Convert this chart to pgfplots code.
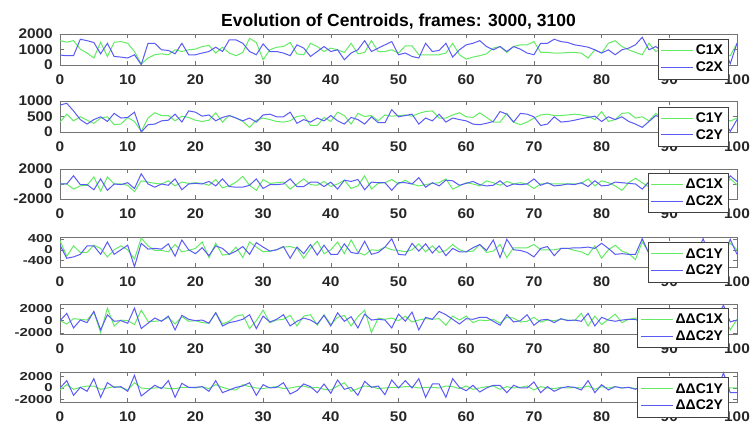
\documentclass[border=0pt]{standalone}
\usepackage{fontspec}
\setmainfont{Liberation Sans}
\newfontfamily\tickfont[FakeStretch=1.1]{Liberation Sans}
\newfontfamily\tickfontw[FakeStretch=1.3]{Liberation Sans}
\usepackage{pgfplots}
\usepackage{pgfplotstable}
\pgfplotsset{compat=1.18}
\definecolor{cg}{RGB}{100,235,100}
\definecolor{cb}{RGB}{90,90,245}
\definecolor{tx}{RGB}{38,38,38}

\pgfplotstableread{
x a b c d e f g h i j k l
0 1574 640 320 870 0 0 340 170 0 0 -340 0
1 1470 600 575 925 0 0 -240 -315 -540 1180 570 1260
2 1570 600 360 680 -680 1100 145 -265 320 -1180 -230 -1260
3 1020 1660 490 400 -255 -85 -100 -170 220 100 110 110
4 770 1570 380 255 -170 -85 -100 145 100 -320 340 -570
5 450 1450 280 400 940 -770 170 145 1380 1500 340 1600
6 1470 720 450 490 -940 680 50 -170 -1920 -1500 -230 -1600
7 550 1400 490 340 940 -850 -265 290 2020 960 0 910
8 1470 550 235 600 0 0 0 -170 -860 -100 230 110
9 1510 510 255 450 0 -85 145 0 100 0 110 230
10 1400 450 470 470 -170 170 0 170 0 -420 -340 -570
11 870 660 340 640 -1020 -600 -340 -630 -640 2020 910 2170
12 60 20 20 0 425 1360 435 240 1700 -1280 0 -1370
13 450 1400 450 235 255 0 145 25 -100 -420 -110 -460
14 660 1400 620 255 85 -425 -25 50 -100 420 0 460
15 720 980 530 360 0 0 -25 25 0 -100 110 -110
16 660 940 530 380 425 -170 -75 220 540 740 -110 1260
17 980 720 360 575 -255 680 195 -240 -540 -1500 -110 -1600
18 870 1400 510 320 255 -770 -75 365 640 860 110 800
19 980 660 470 680 85 0 -25 0 -100 220 110 110
20 1020 660 380 640 170 85 50 -145 0 0 0 110
21 1190 770 340 510 85 0 290 75 -320 100 230 230
22 1260 870 380 550 -170 340 -290 -220 -420 -420 -110 -570
23 770 1150 620 360 600 -255 240 145 1280 1280 570 1260
24 1150 870 320 470 -510 680 -195 50 -540 -860 110 -800
25 770 1620 530 530 -255 -340 -170 -170 -100 -320 -230 -340
26 600 1620 450 450 255 -425 100 -50 740 -100 -340 110
27 810 1400 340 360 1020 -425 -290 120 960 220 570 340
28 1720 870 150 450 -170 -170 290 -170 -1280 960 230 910
29 1450 660 380 320 -850 680 100 265 0 -1280 0 -1260
30 340 1360 450 550 600 -600 -75 100 1700 740 -110 570
31 980 870 400 575 85 -85 -50 -50 -320 -220 110 0
32 1150 870 340 490 170 -85 0 0 100 220 230 110
33 1190 770 320 490 255 0 100 120 220 960 -110 910
34 1450 600 360 640 -680 680 120 -315 860 -860 0 -1030
35 720 1300 500 280 0 -340 50 100 -860 -100 230 -460
36 660 1090 530 400 680 -340 -315 -145 740 420 340 690
37 1400 550 210 320 -85 255 50 195 960 100 0 230
38 1190 870 210 450 -170 255 315 -195 -740 -540 110 -800
39 870 1190 470 360 340 -340 -145 170 960 860 -230 690
40 1090 870 340 530 -340 255 0 -170 -640 -860 -340 -910
41 980 980 640 360 0 -680 290 -170 540 1280 340 1370
42 810 340 530 255 510 510 -145 220 860 -100 910 -230
43 1400 770 255 470 -600 340 365 -100 -860 640 -570 110
44 720 980 600 400 -255 600 -100 -145 640 -1180 -110 -1260
45 810 1570 500 255 1100 -770 -195 315 1700 1060 340 1140
46 1570 870 530 490 -680 255 0 -170 -1920 100 230 110
47 870 1090 360 300 85 170 -25 -100 420 220 -110 340
48 870 1300 550 300 170 170 100 100 220 100 0 -1140
49 980 1510 510 720 600 -850 0 410 420 -1180 110 1370
50 770 660 530 490 0 170 -25 -170 0 1060 110 0
51 1230 770 550 530 510 170 -75 -195 740 -100 230 1260
52 1230 550 510 575 0 0 0 240 -220 1380 230 0
53 660 450 600 255 -255 850 220 -50 100 -1500 0 1600
54 660 1400 660 450 -85 -425 -75 220 320 540 110 -1600
55 660 870 680 360 85 170 145 -120 220 220 110 690
56 660 940 450 575 170 -255 -100 145 320 1500 0 690
57 770 1400 450 320 680 510 -25 -220 -740 960 340 -1600
58 1400 510 550 450 -680 425 195 50 740 220 230 1600
59 660 980 620 400 -255 -170 0 -75 100 -540 -110 110
60 380 1300 490 360 170 85 -75 -75 740 320 340 -460
61 510 1400 470 255 0 340 -50 75 -320 220 -230 460
62 600 1570 620 235 -255 -85 195 195 100 540 0 -690
63 720 1190 470 280 425 -255 -100 -25 0 540 230 0
64 1090 980 320 340 170 -170 -50 365 220 -100 340 460
65 1190 1190 320 660 -170 425 195 -290 -420 -740 -230 460
66 810 870 600 575 340 -340 -290 390 540 960 230 -800
67 1190 1190 320 320 0 0 75 0 420 -220 0 460
68 1300 1020 235 600 170 -85 75 -25 -220 0 110 0
69 1300 770 320 575 0 0 75 -100 -100 960 340 0
70 1510 660 450 490 -600 680 195 -265 540 -740 -340 1030
71 810 1400 550 210 0 -170 0 50 -220 100 230 -800
72 810 1400 575 255 85 170 0 120 100 220 0 230
73 770 1660 530 490 0 -255 0 -220 0 -320 -110 -570
74 770 1510 530 320 0 -170 50 50 220 320 110 0
75 810 1450 550 340 0 0 50 50 100 0 0 230
76 810 1300 575 380 0 -85 -25 75 0 100 110 110
77 770 1230 550 430 85 170 -75 75 1180 -100 0 -340
78 450 1150 510 470 680 -340 -195 100 -860 1180 340 1260
79 980 980 400 510 -255 425 145 50 740 -860 -230 -800
80 770 770 660 340 425 -255 -315 240 -640 540 230 570
81 1400 980 340 490 170 -170 0 50 220 100 0 -340
82 1570 660 400 400 -255 255 170 -170 1060 -100 230 230
83 1190 980 600 490 -850 170 -50 -145 -320 100 0 0
84 980 1090 620 340 170 85 -145 -170 220 220 110 110
85 810 1300 450 255 770 0 -365 -170 420 220 -110 -230
86 660 1790 490 150 170 -680 290 410 300 -400 110 460
87 1400 980 360 340 -400 300 -100 -150 -500 600 -110 -690
88 870 1190 600 530 300 -500 150 200 700 -300 230 800
89 1090 870 450 450 -200 400 -50 -100 -300 400 0 -460
90 900 1200 500 400 500 -200 100 -50 400 -500 110 230
91 1300 800 400 550 -600 300 -150 150 -600 300 -230 570
92 800 1300 550 350 200 -400 200 -200 500 -200 230 -800
93 1100 900 450 500 0 200 -100 100 -200 500 0 460
94 700 1500 500 400 -300 0 50 -150 300 -600 110 0
95 1200 700 380 600 400 -300 150 410 600 400 -110 -340
96 900 1100 550 350 -200 500 -200 -250 -400 -300 230 690
97 1300 800 450 500 100 -200 100 100 200 500 0 -570
98 700 1200 500 400 -500 -400 -50 -200 1000 2500 340 2600
99 600 80 350 20 700 1100 250 390 -1500 -200 0 -800
100 1400 1400 450 400 -100 340 0 -170 200 100 0 -800
}\data

\pgfplotsset{
 sub/.style={
  scale only axis, width=677pt, xmin=0, xmax=100,
  xtick={0,10,...,100}, scaled ticks=false,
  axis line style={draw=black!55},
  tick style={draw=black!55, line width=0.5pt},
  major tick length=4pt, tick align=inside,
  tick label style={font=\fontsize{14}{15}\tickfont\bfseries, text=tx},
  /pgf/number format/assume math mode=true,
  /pgf/number format/1000 sep={},
  xticklabel style={yshift=-6.5pt},
  yticklabel style={inner sep=0pt, xshift=-7pt},
  legend cell align=left,
  legend style={draw=black!75, fill=white, font=\fontsize{14}{15}\selectfont\bfseries, inner xsep=3pt, inner ysep=4pt, row sep=1pt, anchor=north east,
    /tikz/every even column/.append style={column sep=2pt}},
  legend image code/.code={\draw[##1] (0pt,0pt) -- (32pt,0pt);},
  anchor=north west,
 },
 tight/.style={yticklabel style={font=\fontsize{11.5}{12}\tickfontw\bfseries}},
 gr/.style={color=cg, line width=1pt},
 bl/.style={color=cb, line width=1pt},
}

\begin{document}
\begin{tikzpicture}
\useasboundingbox (0,0) rectangle (751pt,427pt);
\node[anchor=base, font=\fontsize{17.5}{20}\selectfont\bfseries, text=black] at (398.5pt,400pt) {Evolution of Centroids, frames: 3000, 3100};

\begin{axis}[sub, at={(60pt,393pt)}, height=31pt, ymin=0, ymax=2000, ytick={0,1000,2000},
  legend style={at={(0.987,0.84)}}]
\addplot[gr] table[x=x,y=a]{\data};
\addplot[bl] table[x=x,y=b]{\data};
\legend{C1X,C2X}
\end{axis}

\begin{axis}[sub, at={(60pt,326pt)}, height=31pt, ymin=0, ymax=1000, ytick={0,500,1000},
  legend style={at={(0.987,0.81)}}]
\addplot[gr] table[x=x,y=c]{\data};
\addplot[bl] table[x=x,y=d]{\data};
\legend{C1Y,C2Y}
\end{axis}

\begin{axis}[sub, at={(60pt,258pt)}, height=30pt, ymin=-2000, ymax=2000, ytick={-2000,0,2000},
  legend style={at={(0.987,0.87)}}]
\addplot[gr] table[x=x,y=e]{\data};
\addplot[bl] table[x=x,y=f]{\data};
\legend{ΔC1X,ΔC2X}
\end{axis}

\begin{axis}[sub, tight, at={(60pt,190pt)}, height=30pt, ymin=-640, ymax=475, ytick={-400,0,400},
  yticklabels={\raisebox{-1pt}{-400},0,\raisebox{1pt}{400}},
  legend style={at={(0.987,0.83)}}]
\addplot[gr] table[x=x,y=g]{\data};
\addplot[bl] table[x=x,y=h]{\data};
\legend{ΔC1Y,ΔC2Y}
\end{axis}

\begin{axis}[sub, tight, at={(60pt,123pt)}, height=30pt, ymin=-2160, ymax=2700, ytick={-2000,0,2000},
  legend style={at={(0.987,0.87)}}]
\addplot[gr] table[x=x,y=i]{\data};
\addplot[bl] table[x=x,y=j]{\data};
\legend{ΔΔC1X,ΔΔC2Y}
\end{axis}

\begin{axis}[sub, tight, at={(60pt,55pt)}, height=30pt, ymin=-2400, ymax=2740, ytick={-2000,0,2000},
  yticklabels={\raisebox{-0.5pt}{-2000},0,\raisebox{0.5pt}{2000}},
  legend style={at={(0.987,0.83)}}]
\addplot[gr] table[x=x,y=k]{\data};
\addplot[bl] table[x=x,y=l]{\data};
\legend{ΔΔC1Y,ΔΔC2Y}
\end{axis}
\end{tikzpicture}
\end{document}
